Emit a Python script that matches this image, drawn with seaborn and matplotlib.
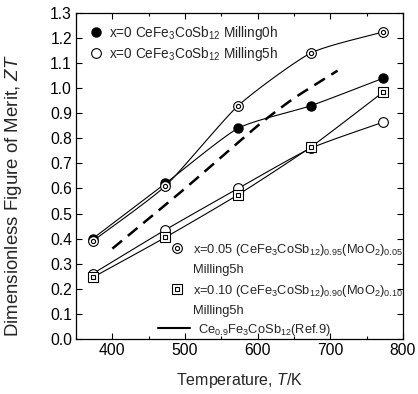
import numpy as np
import pandas as pd
import matplotlib
matplotlib.use("Agg")
import matplotlib.pyplot as plt
import seaborn as sns
from matplotlib.lines import Line2D
from matplotlib.legend_handler import HandlerTuple
from matplotlib.ticker import MultipleLocator, FormatStrFormatter

temps = [373, 473, 573, 673, 773]
zt_x0_0h = [0.40, 0.62, 0.84, 0.93, 1.04]
zt_x0_5h = [0.26, 0.435, 0.60, 0.76, 0.865]
zt_x005_5h = [0.39, 0.61, 0.93, 1.14, 1.225]
zt_x010_5h = [0.245, 0.405, 0.575, 0.765, 0.985]
ref_temps = [400, 500, 600, 650, 710]
ref_zt = [0.36, 0.60, 0.85, 0.96, 1.07]

label_0h = r"x=0 CeFe$_3$CoSb$_{12}$ Milling0h"
label_5h = r"x=0 CeFe$_3$CoSb$_{12}$ Milling5h"
label_005 = "x=0.05 (CeFe$_3$CoSb$_{12}$)$_{0.95}$(MoO$_2$)$_{0.05}$"
label_010 = "x=0.10 (CeFe$_3$CoSb$_{12}$)$_{0.90}$(MoO$_2$)$_{0.10}$"
label_mill = "Milling5h"
label_ref = r"Ce$_{0.9}$Fe$_3$CoSb$_{12}$(Ref.9)"


def smooth(x, y, n=25, c=0.6):
    # cardinal spline through the measured points
    x = np.asarray(x, float)
    y = np.asarray(y, float)
    px = np.concatenate([[2 * x[0] - x[1]], x, [2 * x[-1] - x[-2]]])
    py = np.concatenate([[2 * y[0] - y[1]], y, [2 * y[-1] - y[-2]]])
    t = np.linspace(0, 1, n)
    h00 = 2 * t ** 3 - 3 * t ** 2 + 1
    h10 = t ** 3 - 2 * t ** 2 + t
    h01 = -2 * t ** 3 + 3 * t ** 2
    h11 = t ** 3 - t ** 2
    xs, ys = [], []
    for i in range(1, len(px) - 2):
        for p, out in ((px, xs), (py, ys)):
            m1 = c * (p[i + 1] - p[i - 1]) / 2
            m2 = c * (p[i + 2] - p[i]) / 2
            out.append(h00 * p[i] + h10 * m1 + h01 * p[i + 1] + h11 * m2)
    return np.concatenate(xs), np.concatenate(ys)


sns.set_style("ticks")
plt.rcParams["font.family"] = ["Liberation Sans", "DejaVu Sans"]
plt.rcParams["mathtext.fontset"] = "custom"
plt.rcParams["mathtext.rm"] = "Liberation Sans"
plt.rcParams["mathtext.it"] = "Liberation Sans:italic"
plt.rcParams["mathtext.default"] = "regular"

fig = plt.figure(figsize=(4.18, 3.94), dpi=100)
ax = fig.add_axes([0.182, 0.140, 0.782, 0.827])

lw = 0.8
ms = 6.5
for ys in (zt_x0_0h, zt_x0_5h, zt_x005_5h, zt_x010_5h):
    sx, sy = smooth(temps, ys)
    ax.plot(sx, sy, color="black", lw=lw, zorder=2)

ref_df = pd.DataFrame({"T": ref_temps, "ZT": ref_zt})
rx, ry = smooth(ref_df["T"], ref_df["ZT"])
sns.lineplot(x=rx, y=ry, ax=ax, color="black", lw=1.8, linestyle=(0, (5, 3)),
             sort=False, zorder=2)

ax.plot(temps, zt_x0_0h, "o", ms=ms, mfc="black", mec="black", zorder=3)
ax.plot(temps, zt_x0_5h, "o", ms=ms + 0.5, mfc="white", mec="black", mew=0.8, zorder=3)
ax.plot(temps, zt_x005_5h, "o", ms=ms + 0.5, mfc="white", mec="black", mew=0.8, zorder=4)
ax.plot(temps, zt_x005_5h, "o", ms=3, mfc="white", mec="black", mew=0.8, zorder=5)
ax.plot(temps, zt_x010_5h, "s", ms=ms, mfc="white", mec="black", mew=0.8, zorder=4)
ax.plot(temps, zt_x010_5h, "s", ms=3, mfc="white", mec="black", mew=0.8, zorder=5)

ax.set_xlim(350, 800)
ax.set_ylim(0.0, 1.3)
ax.xaxis.set_major_locator(MultipleLocator(100))
ax.xaxis.set_minor_locator(MultipleLocator(50))
ax.yaxis.set_major_locator(MultipleLocator(0.1))
ax.yaxis.set_major_formatter(FormatStrFormatter("%.1f"))
ax.tick_params(which="both", direction="in", top=True, right=True,
               labelsize=11.3, width=0.8, color="black", labelcolor="black")
ax.tick_params(which="major", length=4, pad=3)
ax.tick_params(which="minor", length=2.5)
for s in ax.spines.values():
    s.set_linewidth(0.9)
    s.set_color("black")

ax.set_xlabel(r"Temperature, $\mathit{T}$/K", fontsize=11.5, labelpad=9)
ax.set_ylabel(r"Dimensionless Figure of Merit, $\mathit{ZT}$", fontsize=13.4)
ax.yaxis.set_label_coords(-0.158, 0.44)

h0 = Line2D([], [], ls="none", marker="o", ms=ms, mfc="black", mec="black")
h5 = Line2D([], [], ls="none", marker="o", ms=ms + 0.5, mfc="white", mec="black", mew=0.8)
leg1 = ax.legend([h0, h5], [label_0h, label_5h], loc="upper left", frameon=False,
                 fontsize=9.8, handlelength=1.0, handletextpad=0.45,
                 borderaxespad=0.3, labelspacing=0.2, bbox_to_anchor=(0.012, 0.995))
ax.add_artist(leg1)

h005 = (Line2D([], [], ls="none", marker="o", ms=ms + 0.5, mfc="white", mec="black", mew=0.8),
        Line2D([], [], ls="none", marker="o", ms=3, mfc="white", mec="black", mew=0.8))
h010 = (Line2D([], [], ls="none", marker="s", ms=ms, mfc="white", mec="black", mew=0.8),
        Line2D([], [], ls="none", marker="s", ms=3, mfc="white", mec="black", mew=0.8))
blank = Line2D([], [], ls="none")
leg2 = ax.legend([h005, blank, h010, blank], [label_005, label_mill, label_010, label_mill],
                 handler_map={tuple: HandlerTuple(ndivide=1, pad=0)},
                 loc="lower right", frameon=False, fontsize=9.3,
                 handlelength=1.0, handletextpad=0.7, labelspacing=0.5,
                 borderaxespad=0.0, borderpad=0.0, bbox_to_anchor=(1.0, 0.066))
ax.add_artist(leg2)

href = Line2D([], [], color="black", lw=1.5)
leg3 = ax.legend([href], [label_ref], loc="lower left", frameon=False, fontsize=9.3,
                 handlelength=2.5, handletextpad=0.6, borderaxespad=0.0,
                 borderpad=0.0, bbox_to_anchor=(0.25, 0.004))

fig.savefig("out.png", dpi=100)
